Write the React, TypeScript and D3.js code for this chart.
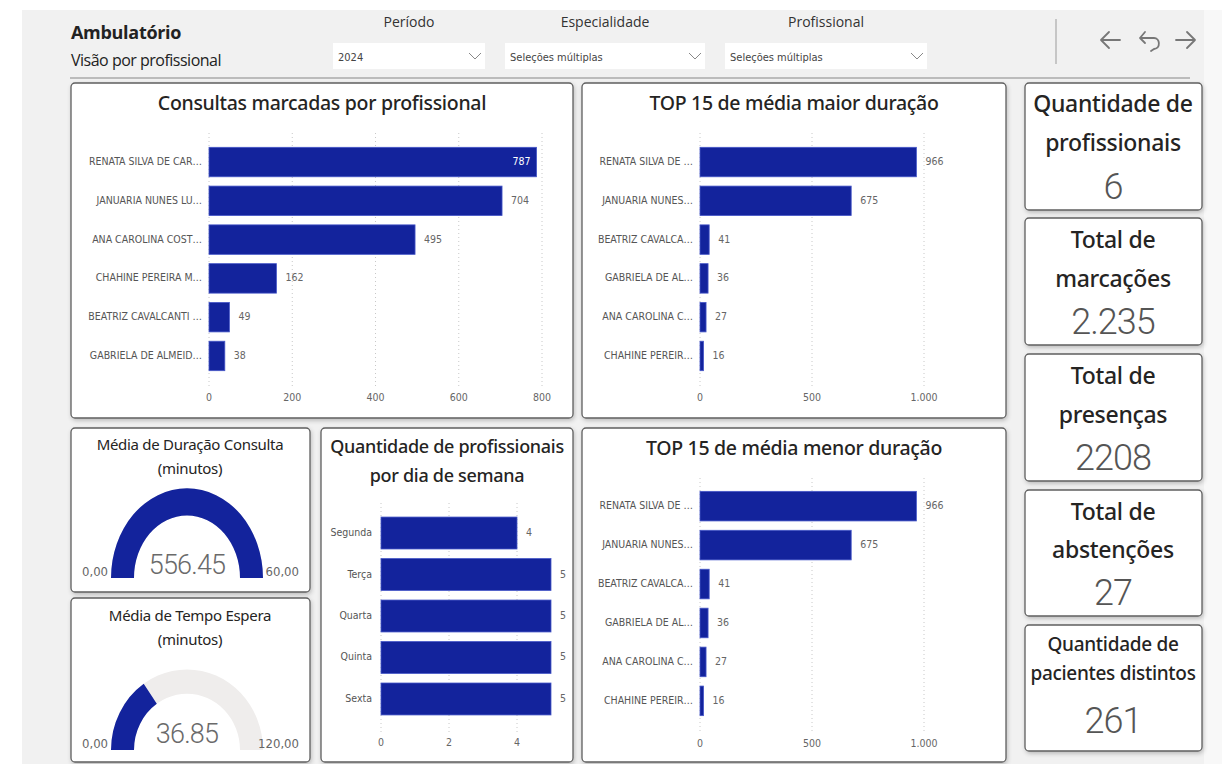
import React from 'react';
import * as d3 from 'd3';

// ---------- DATA ----------
const consultasCats = ["RENATA SILVA DE CAR…", "JANUARIA NUNES LU…", "ANA CAROLINA COST…", "CHAHINE PEREIRA M…", "BEATRIZ CAVALCANTI …", "GABRIELA DE ALMEID…"];
const consultasValues = [787, 704, 495, 162, 49, 38];
const consultasTicks = [0, 200, 400, 600, 800];

const maiorCats = ["RENATA SILVA DE …", "JANUARIA NUNES…", "BEATRIZ CAVALCA…", "GABRIELA DE AL…", "ANA CAROLINA C…", "CHAHINE PEREIR…"];
const maiorValues = [966, 675, 41, 36, 27, 16];
const menorCats = ["RENATA SILVA DE …", "JANUARIA NUNES…", "BEATRIZ CAVALCA…", "GABRIELA DE AL…", "ANA CAROLINA C…", "CHAHINE PEREIR…"];
const menorValues = [966, 675, 41, 36, 27, 16];
const duracaoTicks = [0, 500, 1000];

const diasCats = ["Segunda", "Terça", "Quarta", "Quinta", "Sexta"];
const diasValues = [4, 5, 5, 5, 5];
const diasTicks = [0, 2, 4];

const gaugeTitles = [["Média de Duração Consulta", "(minutos)"], ["Média de Tempo Espera", "(minutos)"]];
const gaugeValues = [556.45, 36.85];
const gaugeMax = [60, 120];

const kpiTitles = [["Quantidade de", "profissionais"], ["Total de", "marcações"], ["Total de", "presenças"], ["Total de", "abstenções"], ["Quantidade de", "pacientes distintos"]];
const kpiValues = ["6", "2.235", "2208", "27", "261"];

const slicerLabels = ["Período", "Especialidade", "Profissional"];
const slicerValues = ["2024", "Seleções múltiplas", "Seleções múltiplas"];

// ---------- STYLE ----------
const F = "'Open Sans', 'Noto Sans', sans-serif";
const FT = "'Noto Sans', 'Open Sans', sans-serif";
const FC = "'DejaVu Sans Condensed', 'Liberation Sans Narrow', 'Roboto Condensed', 'Roboto', sans-serif";
const FL = "Roboto, 'Open Sans', sans-serif";
const BAR = "#13239c";
const TITLE = "#252423";
const locale = d3.formatLocale({ decimal: ",", thousands: ".", grouping: [3], currency: ["R$", ""] });
const fmtTick = locale.format(",");
const fmtGauge = locale.format(",.2f");

function Card({ x, y, w, h }: any) {
  return <rect x={x} y={y} width={w} height={h} rx={4} fill="#fff" stroke="#5f5f5f" strokeWidth={1.3} filter="url(#shadow)" />;
}

function Title({ x, y, size, weight, children }: any) {
  return <text x={x} y={y} textAnchor="middle" fontFamily={FT} fontWeight={weight || 500} fontSize={size} fill={TITLE} style={{ letterSpacing: '-0.3px' }}>{children}</text>;
}

function HBar({ cats, vals, domainMax, ticks, x0, x1, y0, y1, pad, labelRight, axisY, gridTop, gridBottom, insideAbove, fontSize }: any) {
  const xs = d3.scaleLinear().domain([0, domainMax]).range([x0, x1]);
  const ys = d3.scaleBand<string>().domain(cats).range([y0, y1]).padding(pad);
  const fs = fontSize || 10.5;
  return (
    <g>
      {ticks.map((t: number) => (
        <g key={t}>
          <line x1={xs(t)} x2={xs(t)} y1={gridTop} y2={gridBottom} stroke="#c8c8c8" strokeDasharray="1,3" />
          <text x={xs(t)} y={axisY} textAnchor="middle" dominantBaseline="middle" fontFamily={FC} fontSize={fs} fill="#666" style={{ fontStretch: 'condensed' }}>{fmtTick(t)}</text>
        </g>
      ))}
      {cats.map((c: string, i: number) => {
        const v = vals[i];
        const by = ys(c) as number;
        const bw = ys.bandwidth();
        const inside = insideAbove != null && v >= insideAbove;
        return (
          <g key={c}>
            <text x={labelRight} y={by + bw / 2} textAnchor="end" dominantBaseline="middle" fontFamily={FC} fontSize={fs} fill="#555" style={{ fontStretch: 'condensed' }}>{c}</text>
            <rect x={xs(0)} y={by} width={xs(v) - xs(0)} height={bw} fill={BAR} stroke="#4657c8" strokeWidth={0.8} />
            <text x={inside ? xs(v) - 6 : xs(v) + 9} y={by + bw / 2} textAnchor={inside ? 'end' : 'start'} dominantBaseline="middle" fontFamily={FC} fontSize={fs} fill={inside ? '#fff' : '#666'} style={{ fontStretch: 'condensed' }}>{fmtTick(v)}</text>
          </g>
        );
      })}
    </g>
  );
}

function Gauge({ cx, cy, r, inner, sy, value, max, minX, maxX, labelY }: any) {
  const frac = Math.min(value / max, 1);
  const a = d3.scaleLinear().domain([0, 1]).range([-Math.PI / 2, Math.PI / 2]);
  const arc = d3.arc<any>().innerRadius(inner).outerRadius(r);
  const bg = arc({ startAngle: a(0), endAngle: a(1) }) as string;
  const fg = arc({ startAngle: a(0), endAngle: a(frac) }) as string;
  return (
    <g>
      <g transform={`translate(${cx},${cy}) scale(1,${sy})`}>
        <path d={bg} fill="#efedec" />
        <path d={fg} fill={BAR} />
      </g>
      <text x={cx} y={labelY} textAnchor="middle" fontFamily={FL} fontWeight={300} fontSize={27} fill="#6a6a6a" style={{ letterSpacing: '-0.8px' }}>{value.toFixed(2)}</text>
      <text x={minX} y={cy - 2} textAnchor="start" fontFamily={FC} fontSize={13} fill="#666" style={{ fontStretch: 'condensed' }}>{fmtGauge(0)}</text>
      <text x={maxX} y={cy - 2} textAnchor="end" fontFamily={FC} fontSize={13} fill="#666" style={{ fontStretch: 'condensed' }}>{fmtGauge(max)}</text>
    </g>
  );
}

function Slicer({ cx, bx, bw, label, value }: any) {
  return (
    <g>
      <text x={cx} y={27} textAnchor="middle" fontFamily={F} fontSize={14} fill="#333">{label}</text>
      <rect x={bx} y={43} width={bw} height={26} fill="#fff" />
      <text x={bx + 5} y={61} fontFamily={FC} fontSize={11} fill="#444" style={{ fontStretch: 'condensed' }}>{value}</text>
      <polyline points={`${bx + bw - 16},${53} ${bx + bw - 10},${59} ${bx + bw - 4},${53}`} fill="none" stroke="#888" strokeWidth={1} />
    </g>
  );
}

export default function App() {
  const kpiBoxes = [[83, 127], [218, 127], [354, 127], [490, 126], [625, 126]];
  const kpiLayout = [
    { t: [112, 151], v: 199, tf: 23, vf: 36 },
    { t: [248, 287], v: 334, tf: 23, vf: 36 },
    { t: [384, 423], v: 470, tf: 23, vf: 36 },
    { t: [520, 558], v: 605, tf: 23, vf: 36 },
    { t: [651, 680], v: 733, tf: 19, vf: 36 },
  ];
  return (
    <svg width={1222} height={764} style={{ position: 'absolute', left: 0, top: 0 }}>
      <defs>
        <filter id="shadow" x="-10%" y="-10%" width="130%" height="130%">
          <feDropShadow dx={1} dy={2} stdDeviation={2} floodColor="#000" floodOpacity={0.22} />
        </filter>
      </defs>
      <rect x={0} y={0} width={1222} height={764} fill="#fff" />
      <rect x={22} y={10} width={1182} height={754} fill="#f1f1f1" />
      <rect x={1204} y={10} width={18} height={754} fill="#f8f8f8" />

      {/* header */}
      <text x={71} y={39} fontFamily={F} fontWeight={700} fontSize={18} fill="#222" style={{ letterSpacing: '-0.3px' }}>Ambulatório</text>
      <text x={71} y={66} fontFamily={F} fontSize={16} fill="#222" style={{ letterSpacing: '-0.5px' }}>Visão por profissional</text>
      <Slicer cx={409} bx={333} bw={152} label={slicerLabels[0]} value={slicerValues[0]} />
      <Slicer cx={605} bx={505} bw={200} label={slicerLabels[1]} value={slicerValues[1]} />
      <Slicer cx={826} bx={725} bw={202} label={slicerLabels[2]} value={slicerValues[2]} />
      <line x1={70} x2={1190} y1={78} y2={78} stroke="#aaa" strokeWidth={1.5} />
      <line x1={1056} x2={1056} y1={19} y2={64} stroke="#aaa" strokeWidth={1.2} />
      <g stroke="#777" strokeWidth={1.8} fill="none" strokeLinecap="round" strokeLinejoin="round">
        <path d="M1120,40 L1101,40 M1109,32 L1101,40 L1109,48" />
        <path d="M1140,38 L1154,38 C1160,38 1161,48 1154,49 L1151,51 M1145,32 L1140,38 L1145,43" />
        <path d="M1176,40 L1195,40 M1187,32 L1195,40 L1187,48" />
      </g>

      {/* Chart 1 */}
      <Card x={71} y={83} w={502} h={335} />
      <Title x={322} y={110} size={19.5}>Consultas marcadas por profissional</Title>
      <HBar cats={consultasCats} vals={consultasValues} domainMax={800} ticks={consultasTicks}
        x0={209} x1={542} y0={138} y1={380} pad={0.24} labelRight={202} axisY={398} gridTop={133} gridBottom={388} insideAbove={750} />

      {/* Chart 2 */}
      <Card x={582} y={83} w={424} h={335} />
      <Title x={794} y={110} size={19.5}>TOP 15 de média maior duração</Title>
      <HBar cats={maiorCats} vals={maiorValues} domainMax={1000} ticks={duracaoTicks}
        x0={700} x1={924} y0={138} y1={380} pad={0.24} labelRight={693} axisY={398} gridTop={133} gridBottom={388} />

      {/* Gauge 1 */}
      <Card x={71} y={428} w={239} h={164} />
      <Title x={190} y={450} size={15} weight={400}>{gaugeTitles[0][0]}</Title>
      <Title x={190} y={474} size={15} weight={400}>{gaugeTitles[0][1]}</Title>
      <Gauge cx={187} cy={578} r={76} inner={53} sy={1.18} value={gaugeValues[0]} max={gaugeMax[0]} minX={82} maxX={299} labelY={574} />

      {/* Gauge 2 */}
      <Card x={71} y={598} w={239} h={164} />
      <Title x={190} y={621} size={15} weight={400}>{gaugeTitles[1][0]}</Title>
      <Title x={190} y={645} size={15} weight={400}>{gaugeTitles[1][1]}</Title>
      <Gauge cx={187} cy={750} r={76} inner={53} sy={1.06} value={gaugeValues[1]} max={gaugeMax[1]} minX={82} maxX={299} labelY={743} />

      {/* Weekday chart */}
      <Card x={321} y={428} w={252} h={334} />
      <Title x={447} y={453} size={18}>Quantidade de profissionais</Title>
      <Title x={447} y={482} size={18}>por dia de semana</Title>
      <HBar cats={diasCats} vals={diasValues} domainMax={5} ticks={diasTicks}
        x0={381} x1={551} y0={507.5} y1={724.5} pad={0.23} labelRight={372} axisY={743} gridTop={503} gridBottom={733} />

      {/* Chart 3 */}
      <Card x={582} y={428} w={424} h={334} />
      <Title x={794} y={455} size={19.5}>TOP 15 de média menor duração</Title>
      <HBar cats={menorCats} vals={menorValues} domainMax={1000} ticks={duracaoTicks}
        x0={700} x1={924} y0={482} y1={725} pad={0.24} labelRight={693} axisY={744} gridTop={478} gridBottom={733} />

      {/* KPI cards */}
      {kpiTitles.map((t, i) => {
        const [by, bh] = kpiBoxes[i];
        const L = kpiLayout[i];
        return (
          <g key={i}>
            <Card x={1025} y={by} w={177} h={bh} />
            <Title x={1113} y={L.t[0]} size={L.tf}>{t[0]}</Title>
            <Title x={1113} y={L.t[1]} size={L.tf}>{t[1]}</Title>
            <text x={1113} y={L.v} textAnchor="middle" fontFamily={FL} fontWeight={300} fontSize={L.vf} fill="#555" style={{ letterSpacing: '-1px' }}>{kpiValues[i]}</text>
          </g>
        );
      })}
    </svg>
  );
}
